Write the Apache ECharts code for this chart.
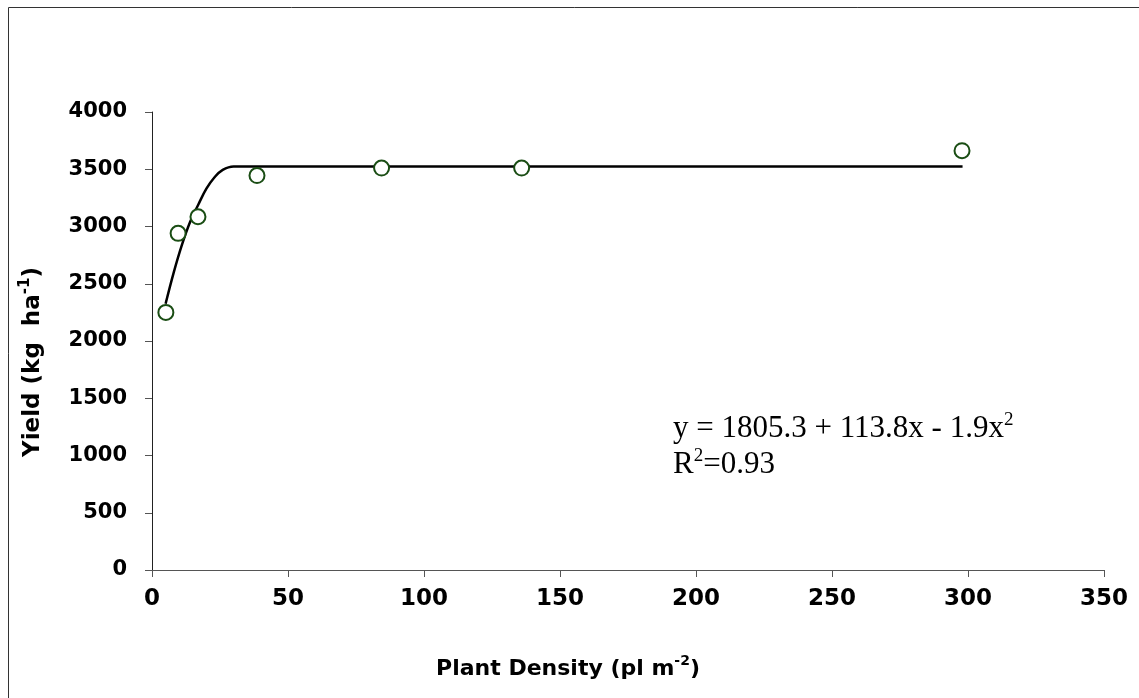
<!DOCTYPE html>
<html>
<head>
<meta charset="utf-8">
<script src="https://cdn.jsdelivr.net/npm/echarts@6/dist/echarts.min.js"></script>
<style type="text/css">
  html, body { margin: 0; padding: 0; background: #fff; }
  #chart { width: 1139px; height: 698px; }
</style>
</head>
<body>
<div id="chart"></div>
<script type="text/javascript">
// observed yield points
var density = [5.1, 9.6, 16.9, 38.6, 84.4, 135.9, 297.8];
var yieldObs = [2250, 2940, 3085, 3445, 3510, 3510, 3662];

// fitted curve
var fitX = [5, 8, 11, 14, 17, 20, 23, 26, 30, 35, 298];
var fitY = [2325, 2600, 2840, 3040, 3190, 3330, 3430, 3495, 3525, 3525, 3525];

var xTicks = { min: 0, max: 350, step: 50 };
var yTicks = { min: 0, max: 4000, step: 500 };

var chart = echarts.init(document.getElementById('chart'));

var tickFont = 'DejaVu Sans';

var option = {
    animation: false,
    backgroundColor: '#fff',
    grid: { left: 152, right: 35, top: 112, bottom: 128 },
    xAxis: {
        type: 'value',
        min: xTicks.min, max: xTicks.max, interval: xTicks.step,
        splitLine: { show: false },
        axisLine: { lineStyle: { color: '#555', width: 1 } },
        axisTick: { show: true, length: 7, lineStyle: { color: '#555' } },
        axisLabel: { margin: 18, color: '#000', fontFamily: tickFont, fontWeight: 'bold', fontSize: 23 },
        name: '{b|Plant Density (pl m}{s|-2}{b|)}',
        nameLocation: 'middle',
        nameGap: 84,
        nameTextStyle: {
            padding: [0, 120, 0, 0],
            rich: {
                b: { fontFamily: tickFont, fontWeight: 'bold', fontSize: 22, color: '#000', lineHeight: 30 },
                s: { fontFamily: tickFont, fontWeight: 'bold', fontSize: 14, color: '#000', verticalAlign: 'top' }
            }
        }
    },
    yAxis: {
        type: 'value',
        min: yTicks.min, max: yTicks.max, interval: yTicks.step,
        splitLine: { show: false },
        axisLine: { show: true, lineStyle: { color: '#222', width: 1 } },
        axisTick: { show: true, length: 7, lineStyle: { color: '#555' } },
        axisLabel: {
            margin: 25, color: '#000', fontFamily: tickFont, fontWeight: 'bold', fontSize: 21,
            formatter: function (v) { return String(v); }
        },
        name: '{b|Yield (kg  ha}{s|-1}{b|)}',
        nameLocation: 'middle',
        nameGap: 104,
        nameTextStyle: {
            padding: [0, 42, 0, 0],
            rich: {
                b: { fontFamily: tickFont, fontWeight: 'bold', fontSize: 23, color: '#000', lineHeight: 30 },
                s: { fontFamily: tickFont, fontWeight: 'bold', fontSize: 15, color: '#000', verticalAlign: 'top' }
            }
        }
    },
    graphic: [
        {
            type: 'rect',
            shape: { x: 8.5, y: 7.5, width: 1300, height: 900 },
            style: { fill: 'none', stroke: '#333', lineWidth: 1 },
            silent: true
        },
        {
            type: 'text',
            left: 673,
            top: 411,
            style: {
                text: '{t|y = 1805.3 + 113.8x - 1.9x}{s|2}\n{t|R}{s|2}{t|=0.93}',
                rich: {
                    t: { fontFamily: 'Liberation Serif', fontSize: 31, color: '#000', lineHeight: 36 },
                    s: { fontFamily: 'Liberation Serif', fontSize: 19, color: '#000', verticalAlign: 'top' }
                }
            }
        }
    ],
    series: [
        {
            name: 'fit',
            type: 'line',
            data: fitX.map(function (x, i) { return [x, fitY[i]]; }),
            smooth: 0.4,
            showSymbol: false,
            lineStyle: { color: '#000', width: 2.5 },
            z: 2
        },
        {
            name: 'observed',
            type: 'scatter',
            data: density.map(function (x, i) { return [x, yieldObs[i]]; }),
            symbol: 'circle',
            symbolSize: 15,
            itemStyle: { color: '#fff', borderColor: '#1a4d14', borderWidth: 2, opacity: 1 },
            z: 3
        }
    ]
};

chart.setOption(option);
</script>
</body>
</html>
